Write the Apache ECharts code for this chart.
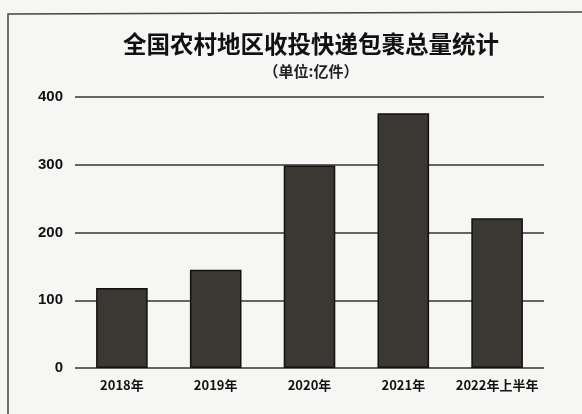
<!DOCTYPE html>
<html>
<head>
<meta charset="utf-8">
<script src="https://cdn.jsdelivr.net/npm/echarts@6/dist/echarts.min.js"></script>
<style>
html,body{margin:0;padding:0;background:#f6f6f4;}
#c{width:582px;height:414px;}
</style>
</head>
<body>
<div id="c"></div>
<script>
var categories = ['2018年', '2019年', '2020年', '2021年', '2022年上半年'];
var values = [118, 145, 299, 376, 221];
var yTicks = [0, 100, 200, 300, 400];

var chart = echarts.init(document.getElementById('c'));
chart.setOption({
  backgroundColor: '#f6f6f4',
  animation: false,
  graphic: [{
    type: 'polyline',
    shape: { points: [[8, 414], [8, 14], [582, 12]] },
    style: { stroke: '#444', lineWidth: 1.5, fill: null },
    silent: true
  }],
  title: {
    text: '全国农村地区收投快递包裹总量统计',
    subtext: '（单位:亿件）',
    left: 306,
    textAlign: 'center',
    top: 27,
    itemGap: 8,
    textStyle: { fontFamily: 'Noto Sans CJK SC', fontWeight: 'bold', fontSize: 23.5, color: '#111' },
    subtextStyle: { fontFamily: 'Noto Sans CJK SC', fontWeight: 'bold', fontSize: 15, color: '#222' }
  },
  grid: { left: 75, right: 38, top: 97, bottom: 46 },
  xAxis: {
    type: 'category',
    data: categories,
    axisLine: { show: false },
    axisTick: { show: false },
    axisLabel: { interval: 0, fontFamily: 'Noto Sans CJK SC', fontWeight: 'bold', fontSize: 13, color: '#111', margin: 11 }
  },
  yAxis: {
    type: 'value',
    min: yTicks[0],
    max: yTicks[yTicks.length - 1],
    interval: 100,
    axisLine: { show: false },
    axisTick: { show: false },
    axisLabel: { fontFamily: 'Liberation Sans', fontWeight: 'bold', fontSize: 15, color: '#111', margin: 12 },
    splitLine: { lineStyle: { color: '#333', width: 1.5 } }
  },
  series: [{
    type: 'bar',
    data: values,
    barWidth: '55%',
    itemStyle: { color: '#3b3833', borderColor: '#111', borderWidth: 1.5 }
  }]
});
</script>
</body>
</html>
